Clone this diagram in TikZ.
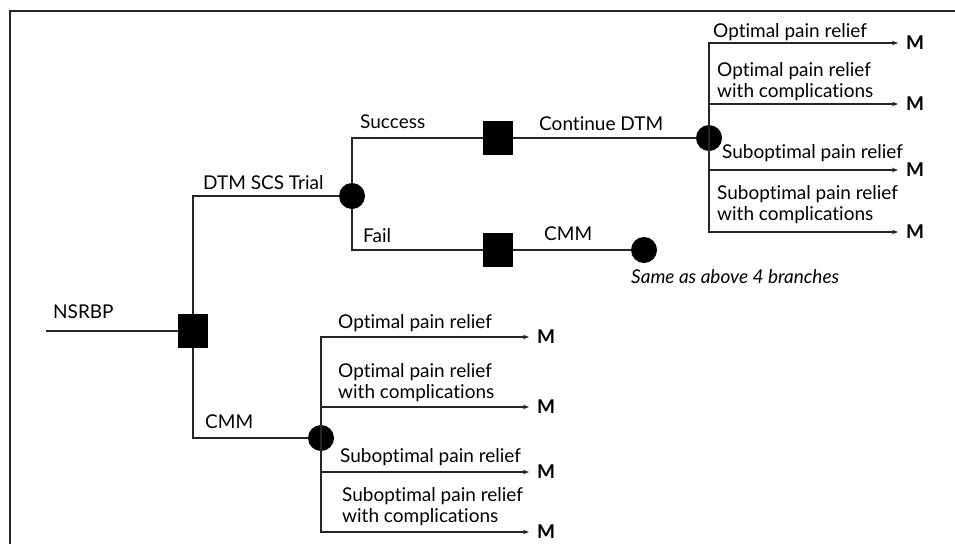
\documentclass[tikz,border=0pt]{standalone}
\usepackage{fontspec}
\setmainfont{Lato}[Ligatures=NoCommon]
\usetikzlibrary{arrows.meta}
\newcommand{\treefont}{\fontsize{19}{21}\selectfont}
\tikzset{
    decision/.style={
        rectangle,
        fill=black, % 决策节点
        minimum width=30pt,
        minimum height=34pt,
        inner sep=0
    },
    chance/.style={
        circle,
        fill=black, % 机会节点
        minimum size=26pt,
        inner sep=0
    },
    link/.style={
        line width=1.2pt,
        draw=black!85
    },
    leaf/.style={
        link,
        -{Stealth[length=6pt,width=4.5pt]}
    },
    outcome/.style={
        anchor=west,
        inner xsep=8pt,
        inner ysep=0,
        font=\treefont\bfseries
    },
    tag/.style={
        anchor=base west,
        inner sep=0,
        font=\treefont
    },
    branch/.style={
        anchor=south west,
        inner sep=0,
        align=left,
        font=\treefont
    }
}

\begin{document}
\begin{tikzpicture}[x=1pt, y=-1pt]
    \useasboundingbox (0,0) rectangle (955,544);
    % 外框
    \draw[line width=2pt, black!85] (10,544) |- (955,11);

    % 节点
    \coordinate (start) at (46,331);
    \node[decision] (sq0) at (193,331) {};
    \node[chance] (ch1) at (352,196) {};
    \node[decision] (sq1) at (498,138) {};
    \node[decision] (sq2) at (498,250) {};
    \node[chance] (ch2) at (709,138) {};
    \node[chance] (ch3) at (644,250) {};
    \node[chance] (ch4) at (321,438) {};

    % 连线
    \draw[link] (start) -- (sq0);
    \draw[link] (sq0) |- (ch1);
    \draw[link] (sq0) |- (ch4);
    \draw[link] (ch1) |- (sq1);
    \draw[link] (ch1) |- (sq2);
    \draw[link] (sq1) -- (ch2);
    \draw[link] (sq2) -- (ch3);

    % 上方四个结局
    \foreach \y/\n in {43/1, 104/2, 170/3, 232/4} {
        \node[outcome] (m\n) at (898,\y) {M};
        \draw[leaf] (ch2.center) |- (m\n);
    }
    % 下方四个结局
    \foreach \y/\n in {337/5, 407/6, 472/7, 532/8} {
        \node[outcome] (m\n) at (529,\y) {M};
        \draw[leaf] (ch4.center) |- (m\n);
    }

    % 标签
    \node[tag] (lnsrbp) at (53,318) {NSRBP};
    \node[tag] (ltrial) at (203,189) {DTM SCS Trial};
    \node[tag] (lsucc) at (360,128) {Success};
    \node[tag] (lfail) at (363,242) {Fail};
    \node[tag] (lcont) at (539,130) {Continue DTM};
    \node[tag] (lcmma) at (544,240) {CMM};
    \node[tag] (lcmmb) at (205,428) {CMM};
    \node[tag, font=\treefont\itshape] (lsame) at (631,283) {Same as above 4 branches};

    \node[branch] (b1) at (713,41) {Optimal pain relief};
    \node[branch] (b2) at (717,101) {Optimal pain relief\\with complications};
    \node[branch] (b3) at (722,162) {Suboptimal pain relief};
    \node[branch] (b4) at (717,224) {Suboptimal pain relief\\with complications};

    \node[branch] (b5) at (338,332) {Optimal pain relief};
    \node[branch] (b6) at (338,402) {Optimal pain relief\\with complications};
    \node[branch] (b7) at (340,466) {Suboptimal pain relief};
    \node[branch] (b8) at (342,526) {Suboptimal pain relief\\with complications};
\end{tikzpicture}
\end{document}
